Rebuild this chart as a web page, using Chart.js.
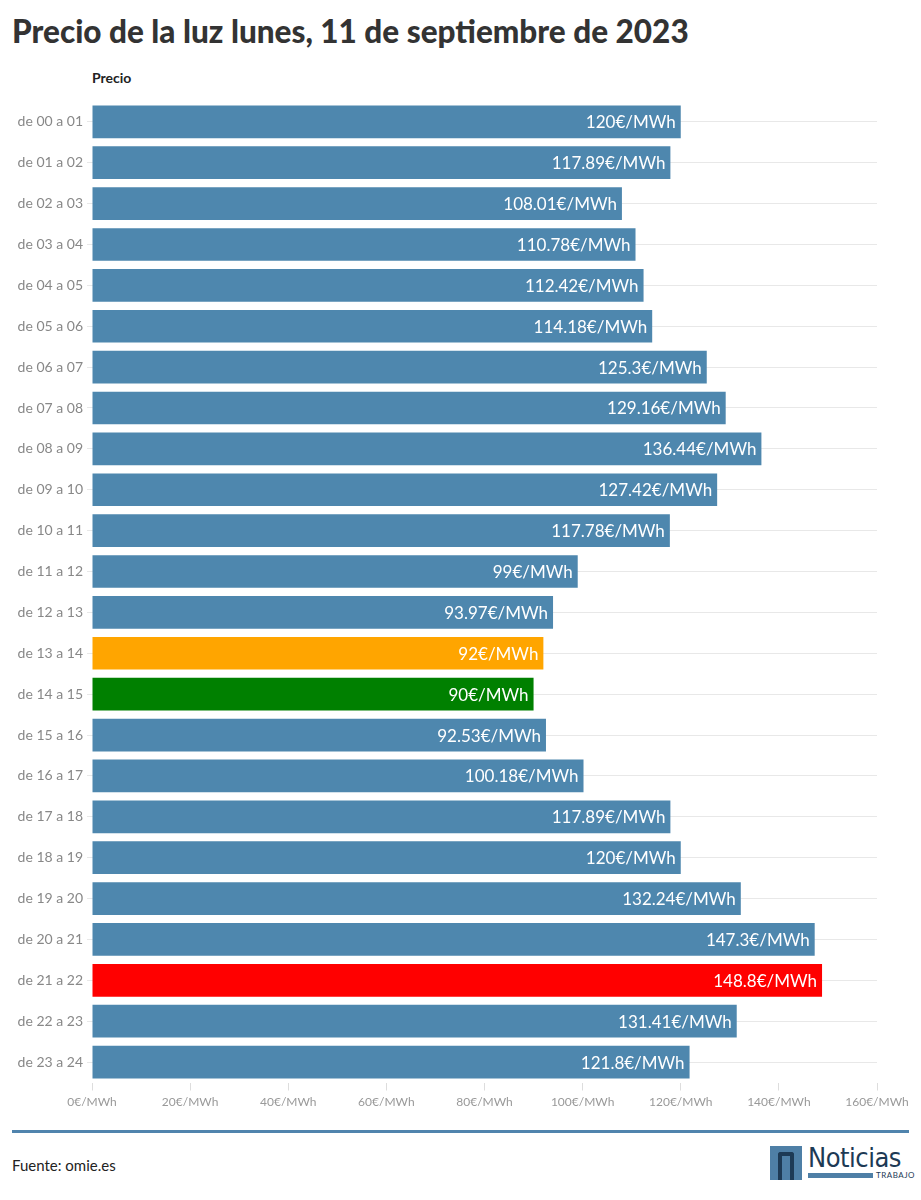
<!DOCTYPE html>
<html><head><meta charset="utf-8">
<script src="https://cdn.jsdelivr.net/npm/chart.js@4"></script>
<style>
body{margin:0;width:921px;height:1200px;background:#fff;font-family:Lato,sans-serif;position:relative;overflow:hidden}
#t{position:absolute;left:12px;top:12px;font-size:31.5px;font-weight:900;color:#333}
#p{position:absolute;left:92px;top:69px;font-size:14px;font-weight:bold;color:#222}
#c{position:absolute;left:0;top:89px;width:921px;height:1036px}
#line{position:absolute;left:12px;top:1130px;width:897px;height:3px;background:#5084ad}
#f{position:absolute;left:12px;top:1156px;font-size:15px;color:#222}
#logo{position:absolute;left:770px;top:1146px;width:140px;height:36px}
</style></head><body>
<div id="t">Precio de la luz lunes, 11 de septiembre de 2023</div>
<div id="p">Precio</div>
<div id="c"><canvas id="cv"></canvas></div>
<div id="line"></div>
<div id="f">Fuente: omie.es</div>
<div id="logo">
 <div style="position:absolute;left:0;top:0;width:32px;height:34px;background:#4e7fa6"></div>
 <div style="position:absolute;left:8px;top:6px;width:16px;height:28px;border:4px solid #1d3a55;border-bottom:none;box-sizing:border-box;border-radius:3px 3px 0 0"></div>
 <div style="position:absolute;left:38px;top:-4px;font-size:27px;color:#1d3a55;font-family:'DejaVu Sans Condensed',sans-serif;letter-spacing:-0.5px">Noticias</div>
 <div style="position:absolute;left:38px;top:27px;width:65px;height:5px;background:#4e7fa6"></div>
 <div style="position:absolute;left:106px;top:24px;font-size:8px;color:#1d3a55;letter-spacing:0.5px">TRABAJO</div>
</div>
<script>
const categories=["de 00 a 01","de 01 a 02","de 02 a 03","de 03 a 04","de 04 a 05","de 05 a 06","de 06 a 07","de 07 a 08","de 08 a 09","de 09 a 10","de 10 a 11","de 11 a 12","de 12 a 13","de 13 a 14","de 14 a 15","de 15 a 16","de 16 a 17","de 17 a 18","de 18 a 19","de 19 a 20","de 20 a 21","de 21 a 22","de 22 a 23","de 23 a 24"];
const prices=[120,117.89,108.01,110.78,112.42,114.18,125.3,129.16,136.44,127.42,117.78,99,93.97,92,90,92.53,100.18,117.89,120,132.24,147.3,148.8,131.41,121.8];
const colors=prices.map((v,i)=>i===13?'#ffa500':i===14?'#008000':i===21?'#ff0000':'#4e87ae');
const labelsPlugin={id:'lbl',afterDatasetsDraw(ch){const c=ch.ctx;const m=ch.getDatasetMeta(0);c.save();c.fillStyle='#fff';c.font='17px Lato';c.textAlign='right';c.textBaseline='middle';m.data.forEach((b,i)=>{c.fillText(prices[i]+'€/MWh',b.x-5,b.y+1);});c.restore();}};
new Chart(document.getElementById('cv'),{type:'bar',data:{labels:categories,datasets:[{data:prices,backgroundColor:colors,barPercentage:0.8,categoryPercentage:1}]},
options:{indexAxis:'y',responsive:true,maintainAspectRatio:false,animation:false,
layout:{padding:{top:5.5,right:44,bottom:0,left:0}},
plugins:{legend:{display:false},tooltip:{enabled:false}},
scales:{
x:{min:0,max:160,ticks:{stepSize:20,color:'#999',font:{family:'Lato',size:12},padding:4,callback:v=>v+'€/MWh'},grid:{display:true,drawOnChartArea:false,tickLength:8,color:'#ddd'},border:{display:false},afterFit(s){s.height=42.5;}},
y:{ticks:{color:'#888',font:{family:'Lato',size:14},padding:4},grid:{color:'#e8e8e8',tickLength:5,offset:false},border:{display:false},afterFit(s){s.width=92;}}
}},plugins:[labelsPlugin]});
</script></body></html>
